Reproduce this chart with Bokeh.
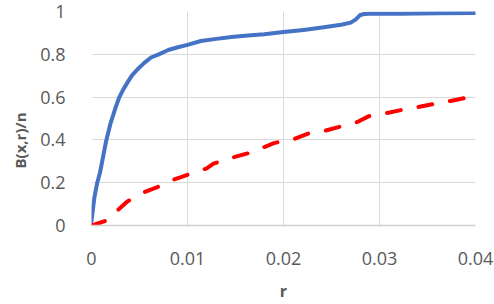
from bokeh.plotting import figure
from bokeh.models import Range1d, FixedTicker, Title
from bokeh.embed import file_html
from bokeh.resources import INLINE

# Blue curve: B(x,r)/n (solid)
r_blue = [0, 0.0001, 0.0003, 0.0006, 0.0009, 0.0012, 0.0015, 0.002, 0.0025, 0.0029,
          0.0033, 0.0037, 0.0042, 0.0048, 0.0055, 0.0062, 0.007, 0.008, 0.009, 0.010,
          0.0114, 0.013, 0.0148, 0.0166, 0.018, 0.020, 0.0221, 0.0242, 0.026, 0.027,
          0.0275, 0.0278, 0.028, 0.0284, 0.029, 0.032, 0.036, 0.040]
b_blue = [0.02, 0.06, 0.13, 0.2, 0.25, 0.32, 0.39, 0.48, 0.55, 0.60,
          0.635, 0.665, 0.70, 0.73, 0.76, 0.785, 0.80, 0.82, 0.833, 0.844,
          0.862, 0.872, 0.882, 0.889, 0.894, 0.904, 0.914, 0.926, 0.938, 0.948,
          0.962, 0.975, 0.984, 0.988, 0.989, 0.99, 0.992, 0.993]

# Red curve (dashed)
r_red = [0, 0.0015, 0.0028, 0.0037, 0.0055, 0.0068, 0.0086, 0.010, 0.012, 0.0127,
         0.0148, 0.0166, 0.019, 0.0211, 0.0226, 0.0244, 0.0259, 0.0277, 0.0289, 0.0308,
         0.0324, 0.0343, 0.0357, 0.0374, 0.0395]
b_red = [0, 0.022, 0.074, 0.111, 0.156, 0.178, 0.215, 0.237, 0.267, 0.289,
         0.319, 0.341, 0.385, 0.404, 0.43, 0.444, 0.462, 0.484, 0.511, 0.526,
         0.541, 0.556, 0.568, 0.582, 0.602]

x_ticks = [0, 0.01, 0.02, 0.03, 0.04]
x_tick_labels = ["0", "0.01", "0.02", "0.03", "0.04"]
y_ticks = [0, 0.2, 0.4, 0.6, 0.8, 1]
y_tick_labels = ["0", "0.2", "0.4", "0.6", "0.8", "1"]

FONT = "Open Sans"
GRAY = "#595959"

p = figure(width=494, height=304, output_backend="svg", toolbar_location=None,
           x_range=Range1d(0, 0.04), y_range=Range1d(0, 1),
           min_border_left=91, min_border_right=19, min_border_top=11, min_border_bottom=69)
p.outline_line_color = None
p.background_fill_color = "white"

p.xaxis.ticker = FixedTicker(ticks=x_ticks)
p.yaxis.ticker = FixedTicker(ticks=y_ticks)
p.xaxis.major_label_overrides = {t: l for t, l in zip(x_ticks, x_tick_labels)}
p.yaxis.major_label_overrides = {t: l for t, l in zip(y_ticks, y_tick_labels)}

for ax in (p.xaxis[0], p.yaxis[0]):
    ax.major_tick_line_color = None
    ax.minor_tick_line_color = None
    ax.major_label_text_font = FONT
    ax.major_label_text_font_size = "18px"
    ax.major_label_text_color = GRAY

p.yaxis.axis_line_color = None
p.yaxis.major_label_standoff = 20
p.xaxis.axis_line_color = "#D0D0D0"
p.xaxis.axis_line_width = 1.5
p.xaxis.major_label_standoff = 20

p.xaxis.axis_label = "r"
p.xaxis.axis_label_text_font = FONT
p.xaxis.axis_label_text_font_size = "16px"
p.xaxis.axis_label_text_font_style = "bold"
p.xaxis.axis_label_text_color = GRAY
p.xaxis.axis_label_standoff = 12

p.xgrid.grid_line_color = "#D9D9D9"
p.ygrid.grid_line_color = "#D9D9D9"
p.xgrid.grid_line_width = 1
p.ygrid.grid_line_width = 1

p.line(r_blue, b_blue, line_color="#4472C4", line_width=4, line_cap="round", line_join="round")
p.line(r_red, b_red, line_color="#FF0000", line_width=4, line_dash="14 18",
       line_cap="round", line_join="round")

ytitle = Title(text="B(x,r)/n", align="left", offset=57, vertical_align="middle",
               text_font=FONT, text_font_size="15px", text_font_style="bold",
               text_color=GRAY, standoff=13)
p.add_layout(ytitle, "left")

open("out.html", "w").write(file_html(p, INLINE))
